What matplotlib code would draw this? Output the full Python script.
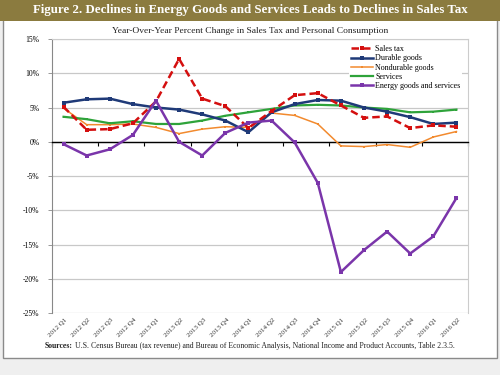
import matplotlib
matplotlib.use("Agg")
import matplotlib.pyplot as plt
import matplotlib.transforms as mtransforms
from matplotlib.patches import Rectangle

quarters = [
    "2012 Q1", "2012 Q2", "2012 Q3", "2012 Q4",
    "2013 Q1", "2013 Q2", "2013 Q3", "2013 Q4",
    "2014 Q1", "2014 Q2", "2014 Q3", "2014 Q4",
    "2015 Q1", "2015 Q2", "2015 Q3", "2015 Q4",
    "2016 Q1", "2016 Q2",
]
sales_tax = [5.1, 1.75, 1.85, 2.7, 5.9, 12.1, 6.3, 5.2, 2.0,
             4.5, 6.8, 7.1, 5.3, 3.5, 3.7, 2.0, 2.4, 2.2]
durable = [5.7, 6.2, 6.3, 5.5, 5.0, 4.7, 4.0, 3.1, 1.4,
           4.3, 5.5, 6.1, 6.0, 5.0, 4.4, 3.6, 2.6, 2.8]
nondurable = [4.9, 2.5, 2.5, 2.6, 2.1, 1.2, 1.85, 2.2, 2.1,
              4.2, 3.85, 2.6, -0.6, -0.7, -0.4, -0.8, 0.7, 1.5]
services = [3.65, 3.3, 2.7, 3.0, 2.6, 2.6, 3.1, 3.8, 4.3,
            4.8, 5.3, 5.4, 5.3, 5.0, 4.8, 4.3, 4.4, 4.7]
energy = [-0.35, -2.0, -1.1, 1.0, 6.0, 0.0, -2.0, 1.3, 2.8,
          3.1, -0.1, -6.0, -19.0, -15.8, -13.1, -16.3, -13.8, -8.2]
y_ticks = [15, 10, 5, 0, -5, -10, -15, -20, -25]

plt.rcParams["font.family"] = ["Liberation Serif", "DejaVu Serif"]

fig = plt.figure(figsize=(5, 3.75), dpi=100, facecolor="#efefef")

# white chart panel with grey border, olive title bar on top
fig.patches.append(Rectangle((0.006, 0.045), 0.988, 0.905, transform=fig.transFigure,
                             facecolor="white", edgecolor="#8a8a8a", linewidth=1.0, zorder=-2))
fig.patches.append(Rectangle((0, 0.945), 1, 0.055, transform=fig.transFigure,
                             facecolor="#8b7b3f", edgecolor="none", zorder=-1))
fig.text(0.5, 0.973, "Figure 2. Declines in Energy Goods and Services Leads to Declines in Sales Tax",
         ha="center", va="center", color="white", fontsize=9.3, fontweight="bold")
fig.text(0.5, 0.918, "Year-Over-Year Percent Change in Sales Tax and Personal Consumption",
         ha="center", va="center", color="#222222", fontsize=6.8)

ax = fig.add_axes([0.104, 0.165, 0.832, 0.731])
ax.set_zorder(2)
ax.patch.set_facecolor("white")
x = list(range(len(quarters)))

mk = dict(marker="s", markeredgewidth=0)
ax.plot(x, sales_tax, color="#d40f0f", lw=1.8, ls=(0, (3, 1.6)), ms=2.6,
        label="Sales tax", zorder=5, **mk)
ax.plot(x, durable, color="#1f3a78", lw=1.8, ms=2.6, label="Durable goods", zorder=4, **mk)
ax.plot(x, nondurable, color="#f28a2e", lw=1.1, ms=2.0, label="Nondurable goods", zorder=3, **mk)
ax.plot(x, services, color="#2ea33a", lw=1.6, ms=2.0, label="Services", zorder=3, **mk)
ax.plot(x, energy, color="#7a35aa", lw=1.8, ms=2.4,
        label="Energy goods and services", zorder=6, **mk)

ax.set_xlim(-0.5, len(quarters) - 0.5)
ax.set_ylim(-25, 15)
ax.set_yticks(y_ticks)
ax.set_yticklabels([f"{v}%" for v in y_ticks], fontsize=5.5)
ax.grid(axis="y", color="#c8c8c8", lw=0.9)
ax.set_axisbelow(True)
ax.tick_params(axis="y", length=3, width=0.6, color="#888888", pad=6)

for side in ["top", "right"]:
    ax.spines[side].set_color("#cccccc")
ax.spines["left"].set_color("#888888")
ax.spines["bottom"].set_position(("data", 0))
ax.spines["bottom"].set_color("black")
ax.spines["bottom"].set_linewidth(1.0)
ax.set_xticks([i - 0.5 for i in range(0, len(quarters) + 1, 2)])
ax.set_xticklabels([])
ax.tick_params(axis="x", length=3, width=0.8, direction="out")

trans = mtransforms.blended_transform_factory(ax.transData, ax.transAxes)
for i, q in enumerate(quarters):
    ax.text(i + 0.2, -0.015, q, transform=trans, rotation=45, ha="right", va="top",
            fontsize=5.0, color="#333333")

leg = ax.legend(loc="upper right", fontsize=5.8, frameon=True, fancybox=False,
                borderpad=0.2, labelspacing=0.15, handlelength=2.8, handletextpad=0.2,
                bbox_to_anchor=(0.995, 0.998))
leg.get_frame().set_edgecolor("none")
leg.get_frame().set_facecolor("white")
leg.get_frame().set_alpha(1)

src = fig.text(0.09, 0.078, "Sources:", ha="left", va="center", fontsize=5.6,
               fontweight="bold", color="#222222")
fig.text(0, 0, " U.S. Census Bureau (tax revenue) and Bureau of Economic Analysis, "
         "National Income and Product Accounts, Table 2.3.5.",
         ha="left", va="center", fontsize=5.6, color="#222222",
         transform=mtransforms.offset_copy(fig.transFigure, fig=fig, x=0, y=0))
# place the plain part right after the bold label
fig.canvas.draw()
bb = src.get_window_extent()
fig.texts[-1].set_position(((bb.x1) / fig.bbox.width, 0.078))

fig.savefig("out.png", dpi=100, facecolor=fig.get_facecolor())
